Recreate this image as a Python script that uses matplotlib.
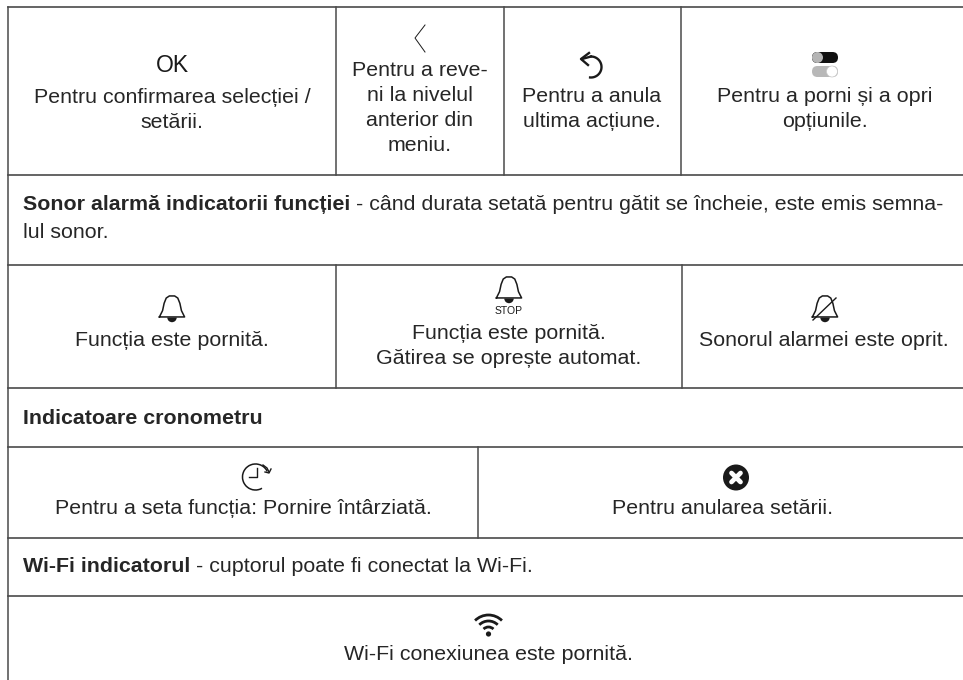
import numpy as np
import matplotlib
matplotlib.use('Agg')
import matplotlib.pyplot as plt
from matplotlib.patches import Circle, FancyBboxPatch, Arc, Wedge

plt.rcParams['font.family'] = ['Liberation Sans', 'DejaVu Sans']

TEXT_COLOR = '#262626'
LINE_COLOR = '#4a4a4a'
ICON_COLOR = '#1a1a1a'
FS = 15.4

h_lines = [7, 175, 265, 388, 447, 538, 596]
v_lines = [(336, 7, 175), (504, 7, 175), (681, 7, 175),
           (336, 265, 388), (682, 265, 388),
           (478, 447, 538)]

cell_texts = [
    (172, 110, 'Pentru confirmarea selecției /\nsetării.'),
    (420, 108, 'Pentru a reve-\nni la nivelul\nanterior din\nmeniu.'),
    (592, 109, 'Pentru a anula\nultima acțiune.'),
    (825, 109, 'Pentru a porni și a opri\nopțiunile.'),
    (172, 340, 'Funcția este pornită.'),
    (509, 346, 'Funcția este pornită.\nGătirea se oprește automat.'),
    (824, 340, 'Sonorul alarmei este oprit.'),
    (243, 508, 'Pentru a seta funcția: Pornire întârziată.'),
    (722, 508, 'Pentru anularea setării.'),
    (488, 655, 'Wi-Fi conexiunea este pornită.'),
]
bold_rows = [
    (23, 204, 'Sonor alarmă indicatorii funcției', ' - când durata setată pentru gătit se încheie, este emis semna-'),
    (23, 419, 'Indicatoare cronometru', ''),
    (23, 567, 'Wi-Fi indicatorul', ' - cuptorul poate fi conectat la Wi-Fi.'),
]


def bell(ax, cx, cy, s=1.0):
    xs = np.array([-12, -9, -7.5, -5.5, -2.5, 2.5, 5.5, 7.5, 9, 12, -12]) * s + cx
    ys = np.array([9, 3, -4, -9, -11, -11, -9, -4, 3, 9, 9]) * s + cy
    ax.plot(xs, ys, color=ICON_COLOR, lw=1.1, solid_joinstyle='round')
    ax.add_patch(Wedge((cx, cy + 9.5 * s), 4.5 * s, 0, 180, color=ICON_COLOR, lw=0))


fig = plt.figure(figsize=(9.63, 6.8), dpi=100)
ax = fig.add_axes([0, 0, 1, 1])
ax.set_xlim(0, 963)
ax.set_ylim(680, 0)
ax.axis('off')

ax.plot([8, 8], [7, 680], color=LINE_COLOR, lw=1.1)
for y in h_lines:
    ax.plot([8, 963], [y, y], color=LINE_COLOR, lw=1.2)
for x, y0, y1 in v_lines:
    ax.plot([x, x], [y0, y1], color=LINE_COLOR, lw=1.1)

for x, y, s in cell_texts:
    ax.text(x, y, s, ha='center', va='center', fontsize=FS, color=TEXT_COLOR, linespacing=1.42)

r = fig.canvas.get_renderer()
for x, y, b, rest in bold_rows:
    t = ax.text(x, y, b, ha='left', va='center', fontsize=FS, fontweight='bold', color=TEXT_COLOR)
    if rest:
        w = t.get_window_extent(r).width
        ax.text(x + w, y, rest, ha='left', va='center', fontsize=FS, color=TEXT_COLOR)
ax.text(23, 232, 'lul sonor.', ha='left', va='center', fontsize=FS, color=TEXT_COLOR)

# OK
ax.text(172, 65, 'OK', ha='center', va='center', fontsize=16.5, color=ICON_COLOR)
# back chevron
ax.plot([425, 415, 425], [25, 38, 52], color=ICON_COLOR, lw=0.7)
# undo arrow
a = np.radians(np.linspace(0, 185, 40))
ax.plot(591 + 10.5 * np.sin(a), 67 - 10.5 * np.cos(a), color=ICON_COLOR, lw=1.7)
ax.plot([582, 591], [59, 56.5], color=ICON_COLOR, lw=1.7)
ax.plot([589, 581, 588], [53, 59, 65], color=ICON_COLOR, lw=1.7)
# toggles
ax.add_patch(FancyBboxPatch((812, 52), 26, 11, boxstyle='round,pad=0,rounding_size=5.5', fc='#111111', ec='none'))
ax.add_patch(Circle((817.5, 57.5), 5.5, fc='#b5b5b5', ec='none', zorder=3))
ax.add_patch(FancyBboxPatch((812, 66), 26, 11, boxstyle='round,pad=0,rounding_size=5.5', fc='#b8b8b8', ec='none'))
ax.add_patch(Circle((832, 71.5), 5.5, fc='white', ec='#c8c8c8', lw=0.5, zorder=3))
# bells
bell(ax, 172, 307.5, 1.05)
bell(ax, 509, 288.5, 1.05)
ax.text(509, 311, 'STOP', ha='center', va='center', fontsize=7.5, color=ICON_COLOR)
bell(ax, 825, 307.5, 1.05)
ax.plot([813, 836], [320, 298], color=ICON_COLOR, lw=1.0)
# clock
ax.add_patch(Arc((255.5, 477), 26, 26, theta1=-300, theta2=-25, color=ICON_COLOR, lw=1.1))
ax.plot([257, 257, 249], [468, 477, 477], color=ICON_COLOR, lw=1.0)
ax.plot([263, 267, 269], [465, 468, 472], color=ICON_COLOR, lw=1.0)
ax.plot([265, 269, 271], [472, 473, 469], color=ICON_COLOR, lw=1.0)
# cancel
ax.add_patch(Circle((736, 477.5), 13, fc=ICON_COLOR, ec='none'))
ax.plot([731.5, 740.5], [473, 482], color='white', lw=3.4, solid_capstyle='round')
ax.plot([731.5, 740.5], [482, 473], color='white', lw=3.4, solid_capstyle='round')
# wifi
for rad in [19, 13, 7]:
    ax.add_patch(Arc((488.5, 634), 2 * rad, 2 * rad, theta1=-135, theta2=-45, color=ICON_COLOR, lw=2.0))
ax.add_patch(Circle((488.5, 634), 2.6, fc=ICON_COLOR, ec='none'))

fig.savefig('out.png', dpi=100)
